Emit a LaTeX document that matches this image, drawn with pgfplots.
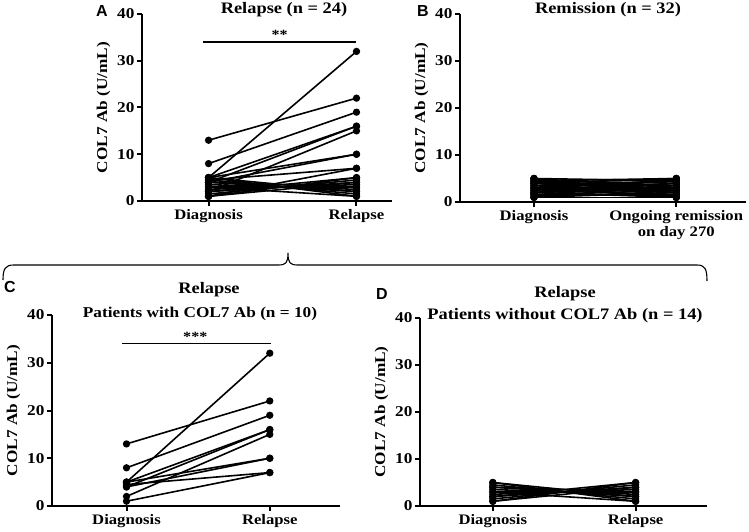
\documentclass[border=0pt]{standalone}
\usepackage{pgfplots}
\pgfplotsset{compat=1.18}
\usepackage{fontspec}
\setmainfont[FakeStretch=1.15]{Liberation Serif}
\newfontfamily\lettfont{Liberation Sans Bold}

% one line per patient: diagnosis value, relapse/remission value
\newcommand\pr[2]{\addplot[pline] coordinates {(0,#1)(1,#2)};}

\pgfplotsset{
  pline/.style={black, line width=1.6pt, mark=*, mark size=2.8pt,
    mark options={solid, fill=black}},
  panel/.style={
    scale only axis,
    axis lines=left,
    axis line style={-, line width=2pt},
    ymin=0, ymax=40,
    ytick={0,10,20,30,40},
    xtick={0,1},
    tick align=outside,
    major tick length=5pt,
    tick style={line width=2pt, black},
    /pgf/number format/assume math mode=true,
    yticklabel style={font=\fontsize{15}{16}\selectfont\bfseries, xshift=1pt},
    xticklabel style={font=\fontsize{14.5}{16}\selectfont\bfseries, align=center},
    ylabel={COL7 Ab (U/mL)},
    ylabel style={font=\fontsize{15}{16}\selectfont\bfseries},
    clip=false,
  },
}

\begin{document}
\begin{tikzpicture}
\useasboundingbox (0pt,0pt) rectangle (749pt,531pt);

% ---------- A ----------
\begin{axis}[panel, at={(142pt,330pt)}, anchor=south west, width=250pt, height=187pt,
  xmin=-0.45, xmax=1.24, xticklabels={Diagnosis,Relapse}]
\pr{13}{22}\pr{8}{19}\pr{5}{32}\pr{5}{16}\pr{4}{16}
\pr{2}{15}\pr{4}{10}\pr{5}{10}\pr{4.5}{7}\pr{1}{7}
\pr{5}{1}\pr{4.5}{1.5}\pr{4}{2}\pr{3.5}{2.5}\pr{3}{3}
\pr{2.5}{3.5}\pr{2}{4}\pr{1.5}{4.5}\pr{1}{5}\pr{5}{2}
\pr{1}{4}\pr{3}{1}\pr{2}{5}\pr{4}{3}
\draw[line width=1.4pt] (axis cs:-0.04,34) -- (axis cs:1,34);
\node[anchor=south, font=\fontsize{14}{16}\selectfont\bfseries, inner sep=1pt] at (axis cs:0.48,34.2) {**};
\end{axis}

% ---------- B ----------
\begin{axis}[panel, at={(460pt,329pt)}, anchor=south west, width=286pt, height=188pt,
  xmin=-0.52, xmax=1.49, xticklabels={Diagnosis,{Ongoing remission\\on day 270}}]
\pr{5}{1}\pr{5}{2}\pr{5}{3}\pr{4.5}{4}\pr{4}{1.5}\pr{4}{5}\pr{4}{2.5}\pr{3.5}{3.5}
\pr{3.5}{1}\pr{3}{4.5}\pr{3}{2}\pr{3}{3}\pr{2.5}{4}\pr{2.5}{1.5}\pr{2}{5}\pr{2}{3}
\pr{2}{1}\pr{1.5}{4}\pr{1.5}{2.5}\pr{1}{5}\pr{1}{3.5}\pr{1}{1}\pr{4.5}{2}\pr{3.5}{4.5}
\pr{2.5}{2.5}\pr{1.5}{1.5}\pr{5}{4.5}\pr{1}{2}\pr{3}{1}\pr{4}{3.5}\pr{2}{4}\pr{4.5}{5}
\end{axis}

% ---------- C ----------
\begin{axis}[panel, at={(52pt,25pt)}, anchor=south west, width=288pt, height=191pt,
  xmin=-0.52, xmax=1.49, xticklabels={Diagnosis,Relapse}]
\pr{13}{22}\pr{8}{19}\pr{5}{32}\pr{5}{16}\pr{4}{16}
\pr{2}{15}\pr{4}{10}\pr{5}{10}\pr{4.5}{7}\pr{1}{7}
\draw[line width=1.4pt] (axis cs:-0.03,34) -- (axis cs:1.01,34);
\node[anchor=south, font=\fontsize{14}{16}\selectfont\bfseries, inner sep=1pt] at (axis cs:0.48,34.2) {***};
\end{axis}

% ---------- D ----------
\begin{axis}[panel, at={(420pt,25pt)}, anchor=south west, width=287pt, height=188pt,
  xmin=-0.51, xmax=1.50, xticklabels={Diagnosis,Relapse}]
\pr{5}{1}\pr{4.5}{1.5}\pr{4}{2}\pr{3.5}{2.5}\pr{3}{3}
\pr{2.5}{3.5}\pr{2}{4}\pr{1.5}{4.5}\pr{1}{5}\pr{5}{2}
\pr{1}{4}\pr{3}{1}\pr{2}{5}\pr{4}{3}
\end{axis}

% titles
\begin{scope}[every node/.style={font=\fontsize{16}{18}\selectfont\bfseries, anchor=base, inner sep=0pt}]
\node at (284pt,517pt) {Relapse (n = 24)};
\node at (608pt,517pt) {Remission (n = 32)};
\node at (209pt,238pt) {Relapse};
\node[font=\fontsize{15}{18}\selectfont\bfseries] at (200pt,214pt) {Patients with COL7 Ab (n = 10)};
\node at (565pt,234pt) {Relapse};
\node at (565pt,212pt) {Patients without COL7 Ab (n = 14)};
\end{scope}

% panel letters
\begin{scope}[every node/.style={font=\lettfont\fontsize{16}{18}\selectfont, anchor=base west, inner sep=0pt}]
\node at (96pt,514pt) {A};
\node at (417pt,514pt) {B};
\node at (4pt,239pt) {C};
\node at (376pt,232pt) {D};
\end{scope}

% brace
\draw[line width=1.1pt] (3pt,251pt) .. controls (3pt,262pt) and (5pt,266pt) .. (14pt,266pt) -- (278pt,266pt)
  .. controls (286pt,266pt) and (288pt,268pt) .. (288pt,278pt)
  .. controls (288pt,268pt) and (290pt,266pt) .. (298pt,266pt) -- (697pt,266pt)
  .. controls (705pt,266pt) and (707pt,262pt) .. (707pt,250pt);
\end{tikzpicture}
\end{document}
